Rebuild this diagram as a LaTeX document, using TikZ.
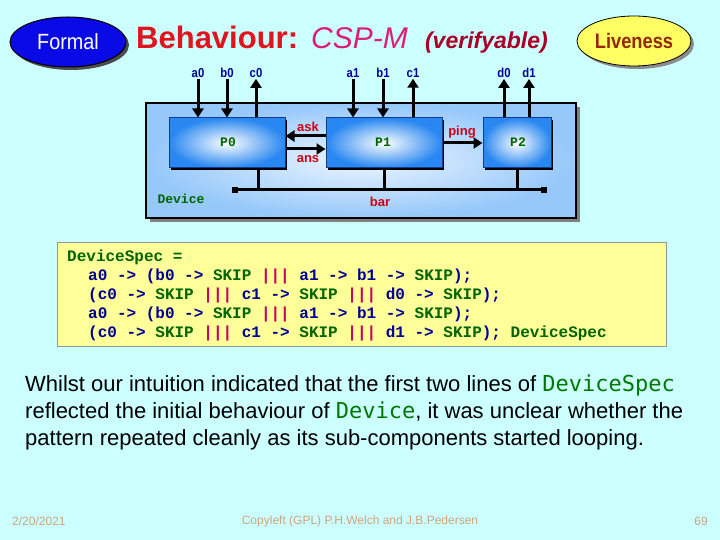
\documentclass[tikz,border=0pt]{standalone}
\usepackage{fontspec}
\usepackage{graphicx}
\setmainfont{Liberation Sans}
\setmonofont{Liberation Mono}
\newfontfamily\dvmono{DejaVu Sans Mono}
\usetikzlibrary{arrows.meta,shapes.geometric,calc}
\definecolor{bg}{RGB}{204,255,255}
\definecolor{cnavy}{RGB}{0,0,150}
\definecolor{cgreen}{RGB}{0,100,0}
\definecolor{cmag}{RGB}{200,0,100}
\definecolor{tred}{RGB}{225,20,30}
\definecolor{tpink}{RGB}{220,30,120}
\definecolor{tmaroon}{RGB}{170,0,40}
\definecolor{lvtext}{RGB}{150,40,0}
\definecolor{lvfill}{RGB}{255,255,100}
\definecolor{fmfill}{RGB}{10,10,230}
\definecolor{devouter}{RGB}{150,200,250}
\definecolor{devinner}{RGB}{235,245,255}
\definecolor{pouter}{RGB}{40,135,240}
\definecolor{pborder}{RGB}{20,60,140}
\definecolor{labred}{RGB}{210,0,20}
\definecolor{codebg}{RGB}{255,255,153}
\definecolor{codeborder}{RGB}{150,150,150}
\definecolor{foot}{RGB}{205,165,125}
\definecolor{bodygreen}{RGB}{0,120,0}
\newcommand\fsz[2]{\fontsize{#1}{#2}\selectfont}
\newcommand\cnd[1]{\scalebox{0.87}[1]{#1}}
\newcommand\cn[1]{\textcolor{cnavy}{#1}}
\newcommand\cg[1]{\textcolor{cgreen}{#1}}
\newcommand\cm[1]{\textcolor{cmag}{#1}}
\begin{document}
\begin{tikzpicture}[x=1pt,y=-1pt,
  arr/.style={line width=3pt,-{Triangle[length=9pt,width=11pt]}},
  stub/.style={line width=3pt},
  pbox/.style={draw=pborder,line width=1pt,shading=radial,outer color=pouter,inner color=white,minimum height=50pt,inner sep=0pt},
  plabel/.style={text=cgreen,font=\ttfamily\bfseries\fsz{13}{15}},
  chlabel/.style={text=cnavy,font=\bfseries\fsz{13}{15},inner sep=1pt},
  evlabel/.style={text=labred,font=\bfseries\fsz{13}{15},inner sep=1pt},
  codeline/.style={anchor=base west,inner sep=0pt,font=\ttfamily\bfseries\fsz{16}{19}},
  bodyline/.style={anchor=base west,inner sep=0pt,font=\fsz{22}{27}},
  footer/.style={text=foot,font=\fsz{12}{14},inner sep=0pt},
  endsq/.style={fill=black,minimum size=6pt,inner sep=0pt}]
\fill[bg] (0,0) rectangle (720,540);
\useasboundingbox (0,0) rectangle (720,540);

% header ellipses
\fill[black!70] (71,45) ellipse [x radius=58pt, y radius=25pt];
\node[ellipse,draw=black,line width=1pt,fill=fmfill,minimum width=116pt,minimum height=50pt,inner sep=0pt,text=white,font=\fsz{22}{26}] (formal) at (68,42) {\scalebox{0.9}[1]{Formal}};
\fill[black!45] (637,44) ellipse [x radius=57pt, y radius=25pt];
\node[ellipse,draw=black,line width=0.8pt,fill=lvfill,minimum width=114pt,minimum height=50pt,inner sep=0pt,text=lvtext,font=\bfseries\fsz{21}{24}] (live) at (634,41) {\cnd{Liveness}};

% title
\node[anchor=base west,inner sep=0pt,text=tred,font=\bfseries\fsz{31}{36}] (t1) at (136,49) {Behaviour:};
\node[anchor=base west,inner sep=0pt,text=tpink,font=\itshape\fsz{30}{36}] (t2) at (311,49) {CSP-M};
\node[anchor=base east,inner sep=0pt,text=tmaroon,font=\bfseries\itshape\fsz{23}{28}] (t3) at (548,49) {(verifyable)};

% device box
\fill[black!50] (150,107) rectangle (580,222);
\node[draw=black,line width=2.5pt,shading=radial,outer color=devouter,inner color=devinner,minimum width=430pt,minimum height=115pt,inner sep=0pt] (dev) at (361,160.5) {};

% processes
\fill[black] (171,120) rectangle (287,170);
\fill[black] (328,120) rectangle (444,170);
\fill[black] (485,120) rectangle (553,170);
\node[pbox,minimum width=116pt] (P0) at (227,143) {};
\node[pbox,minimum width=116pt] (P1) at (384,143) {};
\node[pbox,minimum width=68pt] (P2) at (517,143) {};
\node[plabel] (P0l) at (228,142) {P0};
\node[plabel] (P1l) at (383,142) {P1};
\node[plabel] (P2l) at (518,142) {P2};

% external channel labels
\node[chlabel] (la0) at (198,73) {\cnd{a0}};
\node[chlabel] (lb0) at (227,73) {\cnd{b0}};
\node[chlabel] (lc0) at (256,73) {\cnd{c0}};
\node[chlabel] (la1) at (353,73) {\cnd{a1}};
\node[chlabel] (lb1) at (383,73) {\cnd{b1}};
\node[chlabel] (lc1) at (413,73) {\cnd{c1}};
\node[chlabel] (ld0) at (504,73) {\cnd{d0}};
\node[chlabel] (ld1) at (529,73) {\cnd{d1}};

\draw[arr] (la0.south) -- (la0.south |- P0.north);
\draw[arr] (lb0.south) -- (lb0.south |- P0.north);
\draw[arr] (lc0.south |- P0.north) -- (lc0.south);
\draw[arr] (la1.south) -- (la1.south |- P1.north);
\draw[arr] (lb1.south) -- (lb1.south |- P1.north);
\draw[arr] (lc1.south |- P1.north) -- (lc1.south);
\draw[arr] (ld0.south |- P2.north) -- (ld0.south);
\draw[arr] (ld1.south |- P2.north) -- (ld1.south);

% internal channels
\draw[arr] ($(P1.west)+(0,-7)$) -- ($(P0.east)+(0,-7)$);
\draw[arr] ($(P0.east)+(0,6)$) -- ($(P1.west)+(0,6)$);
\draw[arr] (P1.east) -- (P2.west);
\node[evlabel] (ask) at (308,127) {ask};
\node[evlabel] (ans) at (308,159) {ans};
\node[evlabel] (ping) at (462,132) {ping};

% bar
\node[endsq] (barL) at (235,190) {};
\node[endsq] (barR) at (544,190) {};
\draw[stub] (barL.center) -- (barR.center);
\coordinate (s0) at ($(P0.south)+(31,0)$);
\draw[stub] (s0) -- (s0 |- barL.center);
\draw[stub] (P1.south) -- (P1.south |- barL.center);
\draw[stub] (P2.south) -- (P2.south |- barL.center);
\node[evlabel] (bar) at (380,202) {bar};
\node[plabel] (devl) at (181,199) {Device};

% code box
\node[draw=codeborder,line width=1pt,fill=codebg,minimum width=609pt,minimum height=104pt,inner sep=0pt] (code) at (361.5,294) {};
\node[codeline] (c0) at (67,261) {\cg{DeviceSpec =}};
\node[codeline] (c1) at (88,280) {\cn{a0 -> (b0 ->} \cg{SKIP} \cm{|||} \cn{a1 -> b1 ->} \cg{SKIP}\cn{);}};
\node[codeline] (c2) at (88,299) {\cn{(c0 ->} \cg{SKIP} \cm{|||} \cn{c1 ->} \cg{SKIP} \cm{|||} \cn{d0 ->} \cg{SKIP}\cn{);}};
\node[codeline] (c3) at (88,318) {\cn{a0 -> (b0 ->} \cg{SKIP} \cm{|||} \cn{a1 -> b1 ->} \cg{SKIP}\cn{);}};
\node[codeline] (c4) at (88,337) {\cn{(c0 ->} \cg{SKIP} \cm{|||} \cn{c1 ->} \cg{SKIP} \cm{|||} \cn{d1 ->} \cg{SKIP}\cn{);} \cg{DeviceSpec}};

% body text
\node[bodyline] (b1) at (25,391) {Whilst our intuition indicated that the first two lines of {\dvmono\color{bodygreen}DeviceSpec}};
\node[bodyline] (b2) at (25,418) {reflected the initial behaviour of {\dvmono\color{bodygreen}Device}, it was unclear whether the};
\node[bodyline] (b3) at (25,445) {pattern repeated cleanly as its sub-components started looping.};

% footer
\node[footer,anchor=west] (date) at (12,521) {2/20/2021};
\node[footer] (copy) at (360,521) {Copyleft (GPL) P.H.Welch and J.B.Pedersen};
\node[footer,anchor=east] (page) at (708,521) {69};
\end{tikzpicture}
\end{document}
